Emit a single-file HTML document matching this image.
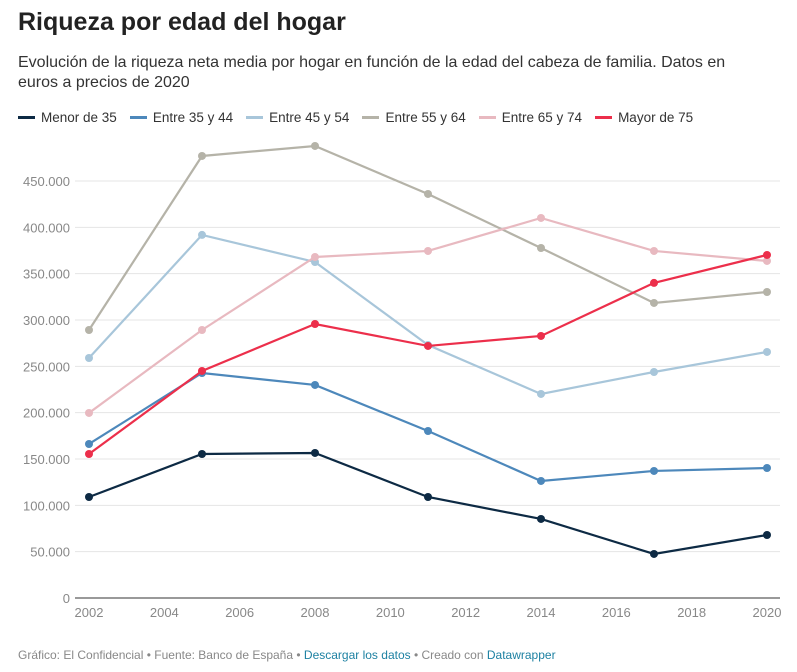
<!DOCTYPE html>
<html><head><meta charset="utf-8"><style>
body{margin:0;background:#fff;font-family:"Liberation Sans",sans-serif;width:797px;height:672px;overflow:hidden;position:relative}
h1{position:absolute;left:18px;top:8px;margin:0;font-size:25px;font-weight:bold;color:#222}
.sub{position:absolute;left:18px;top:53px;width:745px;font-size:16px;line-height:20px;color:#333}
.legend{position:absolute;left:18px;top:110px;font-size:13.5px;color:#333;display:flex;gap:13px}
.legend span{display:flex;align-items:center}
.legend i{display:inline-block;width:17px;height:3px;margin-right:6px}
.foot{position:absolute;left:18px;top:648px;font-size:12px;color:#888}
.foot a{color:#1d81a2;text-decoration:none}
</style></head><body>
<h1>Riqueza por edad del hogar</h1>
<div class="sub">Evolución de la riqueza neta media por hogar en función de la edad del cabeza de familia. Datos en euros a precios de 2020</div>
<div class="legend" id="legend"></div>
<svg id="chart" width="797" height="672" style="position:absolute;left:0;top:0"></svg>
<div class="foot">Gráfico: El Confidencial • Fuente: Banco de España • <a>Descargar los datos</a> • Creado con <a>Datawrapper</a></div>
<script>
const years=[2002,2005,2008,2011,2014,2017,2020];
const seriesNames=["Menor de 35","Entre 35 y 44","Entre 45 y 54","Entre 55 y 64","Entre 65 y 74","Mayor de 75"];
const menor35=[109000,155400,156500,109000,85300,47500,68000];
const e35_44=[166200,242800,229900,180200,126300,137100,140300];
const e45_54=[259000,391800,362600,273000,220200,243900,265500];
const e55_64=[289200,477000,487800,436000,377700,318400,330200];
const e65_74=[199700,289200,368000,374500,410100,374500,363700];
const mayor75=[155400,245000,295700,272000,282800,340000,370200];
const yTicks=[0,50000,100000,150000,200000,250000,300000,350000,400000,450000];
const xTicks=[2002,2004,2006,2008,2010,2012,2014,2016,2018,2020];
const colors=["#0d2a44","#4d88bb","#a8c6da","#b5b3a8","#e8b9c0","#ec2f4b"];
const allSeries=[menor35,e35_44,e45_54,e55_64,e65_74,mayor75];
const NS="http://www.w3.org/2000/svg";
const svg=document.getElementById('chart');
const x=v=>89+(v-2002)*(767-89)/18;
const y=v=>598-v*(598-181)/450000;
function mk(t,a){const e=document.createElementNS(NS,t);for(const k in a)e.setAttribute(k,a[k]);svg.appendChild(e);return e;}
yTicks.forEach(t=>{
  const l=mk('line',{x1:75,x2:780,y1:y(t),y2:y(t),stroke:t===0?'#333':'#e4e4e4','stroke-width':1});
  
  
  const tx=mk('text',{x:70,y:y(t)+5,'text-anchor':'end','font-size':13,fill:'#888','font-family':'Liberation Sans'});
  tx.textContent=t===0?'0':t.toLocaleString('de-DE');
  
  
});
xTicks.forEach(t=>{
  const tx=mk('text',{x:x(t),y:617,'text-anchor':'middle','font-size':13,fill:'#888','font-family':'Liberation Sans'});
  tx.textContent=t;
  
  
});
const lg=document.getElementById('legend');
allSeries.forEach((s,i)=>{
  const p=mk('polyline',{points:s.map((v,j)=>x(years[j])+','+y(v)).join(' '),fill:'none',stroke:colors[i],'stroke-width':2.2});
  
  
  s.forEach((v,j)=>{
    const c=mk('circle',{cx:x(years[j]),cy:y(v),r:4,fill:colors[i]});
    
    
  });
  const sp=document.createElement('span');
  sp.innerHTML='<i style="background:'+colors[i]+'"></i>'+seriesNames[i];
  
  
  lg.appendChild(sp);
});
</script>
</body></html>
